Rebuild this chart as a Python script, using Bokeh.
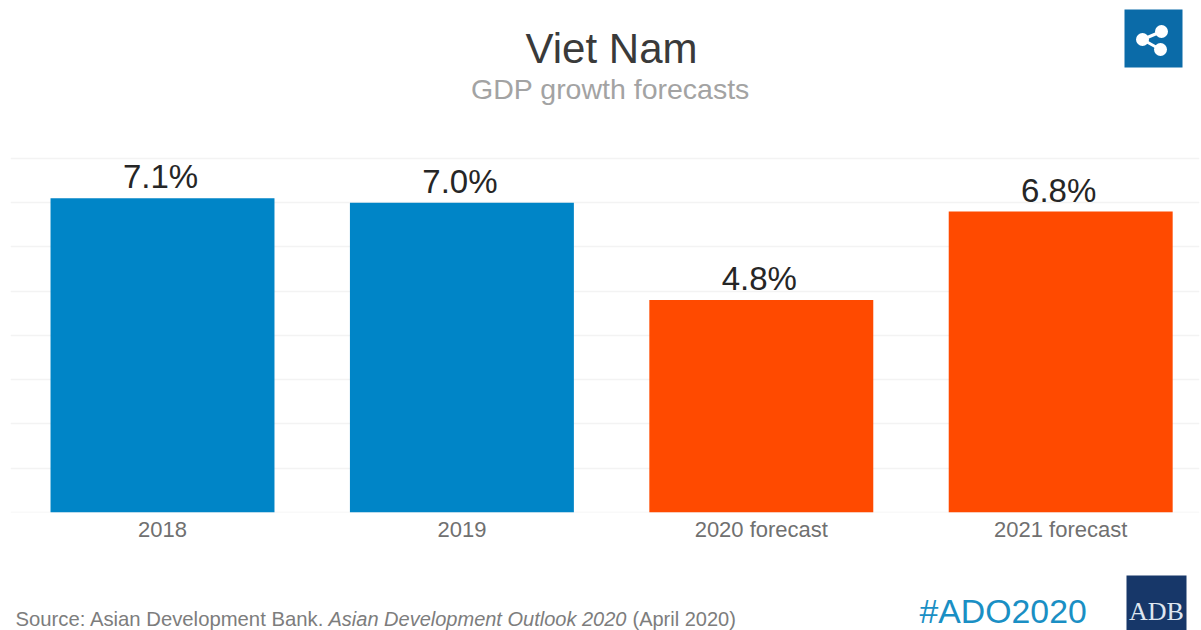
from bokeh.plotting import figure
from bokeh.layouts import column
from bokeh.models import Range1d, FixedTicker, Label, LinearAxis
from bokeh.core.properties import value
from bokeh.embed import file_html
from bokeh.resources import INLINE

categories = ["2018", "2019", "2020 forecast", "2021 forecast"]
growth = [7.1, 7.0, 4.8, 6.8]
bar_colors = ["#0085c7", "#0085c7", "#ff4a00", "#ff4a00"]
grid_ticks = [0, 1, 2, 3, 4, 5, 6, 7, 8]

FONT = "Liberation Sans"
W, H, FOOT = 1201, 630, 60
LEFT, RIGHT = 10, 1199


def lab(text, x, y, size, color, align="left", style="normal", font=FONT):
    return Label(x=x, y=y, x_units="canvas", y_units="canvas", text=text,
                 text_font=font, text_font_size=f"{size}px", text_color=color,
                 text_align=align, text_font_style=style, text_baseline="bottom")


x_idx = list(range(len(categories)))
p = figure(width=W, height=H - FOOT, output_backend="svg", toolbar_location=None,
           x_range=Range1d(-0.5077, 3.4636), y_range=Range1d(0, 11.57),
           min_border_left=LEFT, min_border_right=W - RIGHT, min_border_top=0, min_border_bottom=58,
           x_axis_location=None, y_axis_location=None)
p.outline_line_color = None
p.background_fill_color = "#ffffff"
p.border_fill_color = "#ffffff"

p.xgrid.visible = False
p.ygrid.visible = False
p.hspan(y=grid_ticks, line_color="#f3f3f3", line_width=1.5)

p.vbar(x=x_idx, top=growth, bottom=0, width=0.748, fill_color=bar_colors, line_color=None)
p.text(x=x_idx, y=growth, text=[f"{v:.1f}%" for v in growth], text_font=value(FONT),
       text_font_size="33px", text_color="#262626", text_align="center",
       text_baseline="bottom", y_offset=-3, x_offset=-2)

ax = LinearAxis(ticker=FixedTicker(ticks=x_idx),
                major_label_overrides={i: c for i, c in zip(x_idx, categories)})
ax.axis_line_color = None
ax.major_tick_line_color = None
ax.minor_tick_line_color = None
ax.major_tick_out = 0
ax.major_tick_in = 0
ax.major_label_text_font = FONT
ax.major_label_text_font_size = "22px"
ax.major_label_text_color = "#707070"
ax.major_label_standoff = 4
p.add_layout(ax, "below")

# share icon, in page pixels
p.extra_x_ranges["px"] = Range1d(LEFT, RIGHT)
p.extra_y_ranges["px"] = Range1d(512, 0)
p.quad(left=[1124], right=[1182], top=[9], bottom=[67], fill_color="#0b6ba8", line_color=None,
       x_range_name="px", y_range_name="px")
p.segment(x0=[1142, 1142], y0=[39, 39], x1=[1161, 1160], y1=[31, 49], line_color="#ffffff",
          line_width=3, x_range_name="px", y_range_name="px")
p.scatter(x=[1142, 1161, 1160], y=[39, 31, 49], size=13, fill_color="#ffffff", line_color=None,
          x_range_name="px", y_range_name="px")

p.add_layout(lab("Viet Nam", 611, 71, 42, "#3a3a3a", "center"))
p.add_layout(lab("GDP growth forecasts", 610, 104, 28.5, "#a3a3a3", "center"))

# footer strip, in page pixels (its frame lines up with the chart's frame)
f = figure(width=W, height=FOOT, output_backend="svg", toolbar_location=None,
           x_range=Range1d(LEFT, RIGHT), y_range=Range1d(H, H - FOOT),
           min_border_left=LEFT, min_border_right=W - RIGHT, min_border_top=0, min_border_bottom=0,
           x_axis_location=None, y_axis_location=None)
f.outline_line_color = None
f.xgrid.visible = False
f.ygrid.visible = False
f.border_fill_color = "#ffffff"


def foot(text, x, y, size, color, align="left", style="normal", font=FONT):
    f.text(x=[x], y=[y], text=[text], text_font=value(font), text_font_size=f"{size}px",
           text_color=color, text_align=align, text_baseline="bottom", text_font_style=style)


foot("Source: Asian Development Bank.", 15, 629, 20.3, "#7d7d7d")
foot("Asian Development Outlook 2020", 328, 629, 20, "#7d7d7d", style="italic")
foot("(April 2020)", 632, 629, 20, "#7d7d7d")
foot("#ADO2020", 919, 629, 33.8, "#1a8fc4")
f.quad(left=[1126], right=[1186], top=[575], bottom=[630], fill_color="#173769", line_color=None)
foot("ADB", 1156, 625, 26, "#dfe6f0", "center", font="Liberation Serif")

open("out.html", "w").write(file_html(column(p, f, spacing=0), INLINE))
